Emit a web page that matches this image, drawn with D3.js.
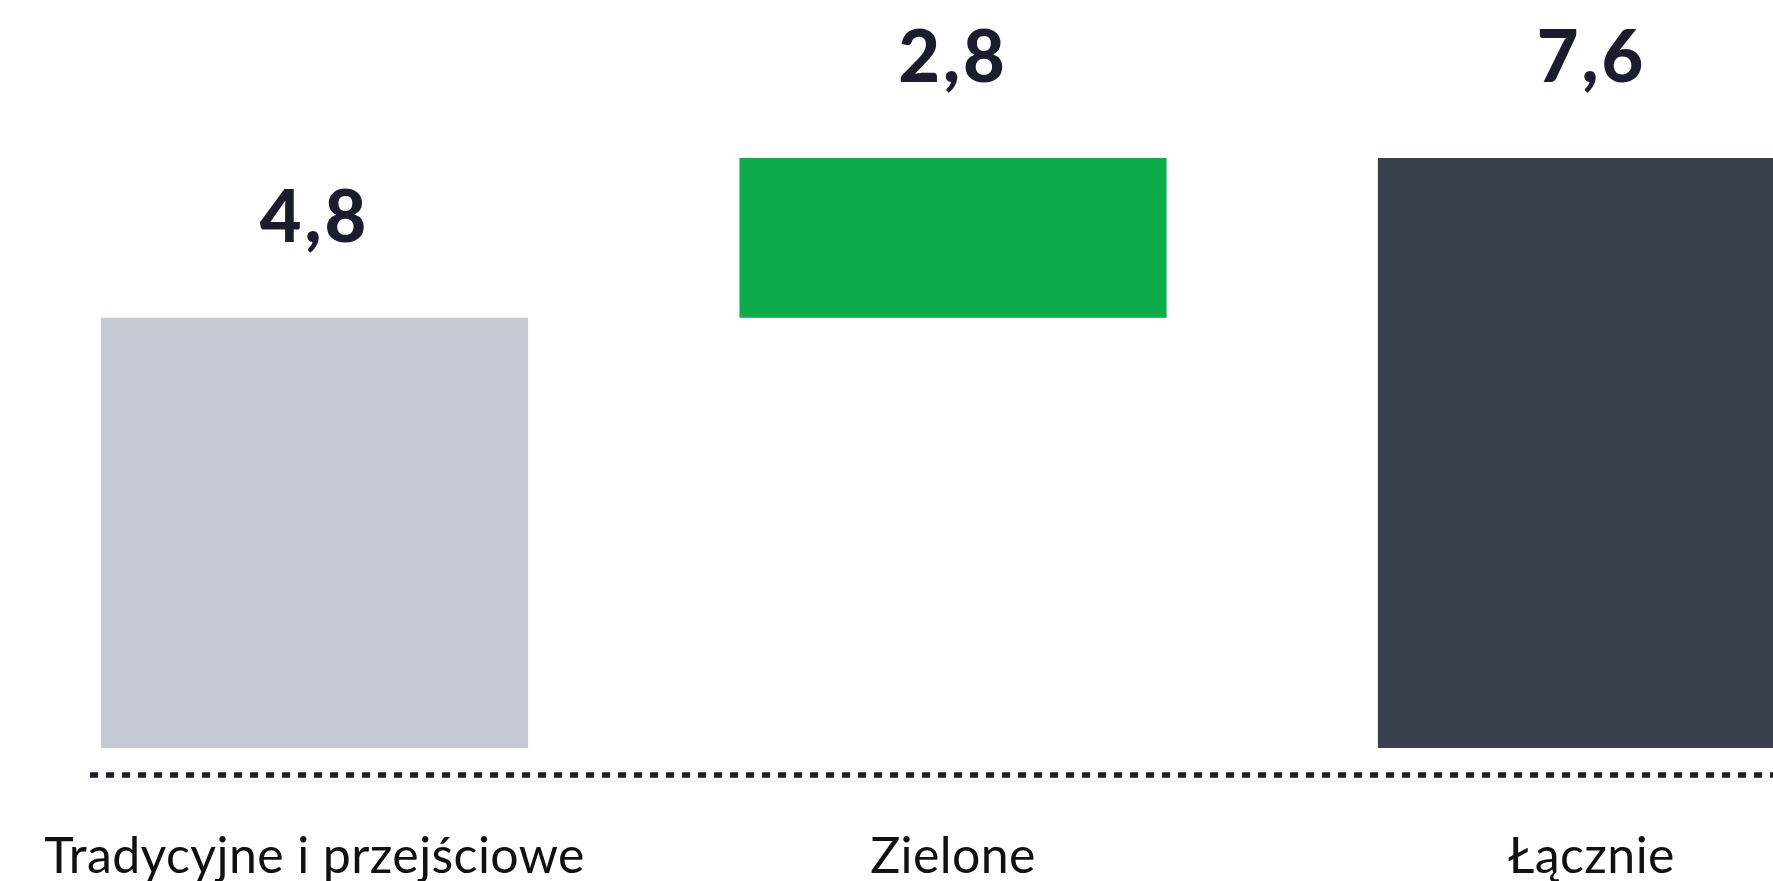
<!DOCTYPE html>
<html lang="pl">
<head>
<meta charset="utf-8">
<script src="https://cdn.jsdelivr.net/npm/d3@7"></script>
<style>
  html, body { margin: 0; padding: 0; background: #ffffff; }
  svg { display: block; }
</style>
</head>
<body>
<svg id="chart" width="1773" height="881"></svg>
<script>
// Categories and values (mld, waterfall: traditional + green = total)
const categories = ["Tradycyjne i przejściowe", "Zielone", "Łącznie"];
const valueLabels = ["4,8", "2,8", "7,6"];
const barStarts = [0, 4.8, 0];      // where each bar segment begins
const barEnds   = [4.8, 7.6, 7.6];  // where each bar segment ends
const barColors = ["#c5c9d4", "#0dac4a", "#3a404e"];

// Floor of the value axis (bars rising from the baseline start here)
const yFloor = -2.74;
const yCeil = 7.6;

const W = 1773, H = 881;
const svg = d3.select("#chart");

const margin = { left: 101, right: -32, top: 158, bottom: 133 };

const x = d3.scaleBand()
  .domain(categories)
  .range([margin.left, W - margin.right])
  .paddingInner(0.331)
  .paddingOuter(0)
  .align(0);

const y = d3.scaleLinear()
  .domain([yFloor, yCeil])
  .range([H - margin.bottom, margin.top]);

const rows = categories.map((c, i) => ({
  cat: c,
  start: barStarts[i],
  end: barEnds[i],
  label: valueLabels[i],
  color: barColors[i]
}));

// Bars
svg.append("g")
  .selectAll("rect")
  .data(rows)
  .join("rect")
  .attr("x", d => x(d.cat))
  .attr("width", x.bandwidth())
  .attr("y", d => y(d.end))
  .attr("height", d => (d.start <= 0 ? y(yFloor) : y(d.start)) - y(d.end))
  .attr("fill", d => d.color);

// Value labels above each bar
svg.append("g")
  .selectAll("text")
  .data(rows)
  .join("text")
  .attr("x", d => x(d.cat) + x.bandwidth() / 2)
  .attr("y", d => y(d.end) - 76)
  .attr("text-anchor", "middle")
  .attr("font-family", "Lato, 'Open Sans', sans-serif")
  .attr("font-weight", 900)
  .attr("font-size", 72)
  .attr("letter-spacing", 3)
  .attr("fill", "#1b1c2e")
  .text(d => d.label);

// Dotted baseline
const baseY = y(yFloor) + 27;
svg.append("line")
  .attr("x1", x.range()[0] - 11)
  .attr("x2", W)
  .attr("y1", baseY)
  .attr("y2", baseY)
  .attr("stroke", "#1c1d2e")
  .attr("stroke-width", 5.3)
  .attr("stroke-dasharray", "8,8");

// Category labels
svg.append("g")
  .selectAll("text")
  .data(rows)
  .join("text")
  .attr("x", d => x(d.cat) + x.bandwidth() / 2)
  .attr("y", y(yFloor) + 125)
  .attr("text-anchor", "middle")
  .attr("font-family", "Lato, 'Open Sans', sans-serif")
  .attr("font-weight", 400)
  .attr("font-size", 50)
  .attr("letter-spacing", 0.4)
  .attr("fill", "#111111")
  .text(d => d.cat);
</script>
</body>
</html>
